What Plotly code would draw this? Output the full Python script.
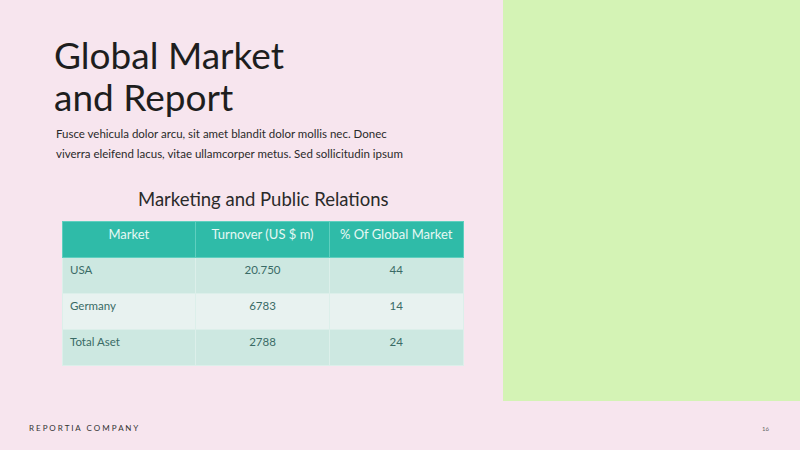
import plotly.graph_objects as go

header = ["Market", "Turnover (US $ m)", "% Of Global Market"]
markets = ["USA", "Germany", "Total Aset"]
turnover = ["20.750", "6783", "2788"]
share = ["44", "14", "24"]

W, H = 800, 450
fig = go.Figure()

row_fill = ["#cde8e1", "#e8f2f0", "#cde8e1"]
fig.add_trace(go.Table(
    domain=dict(x=[62 / W, 464 / W], y=[1 - 366 / H, 1 - 221 / H]),
    columnwidth=[1, 1, 1],
    header=dict(values=header, fill_color="#2fbba8", line_color="#5fcfbf",
                align="center", height=36,
                font=dict(family="Lato", size=13, color="#e6f8f4")),
    cells=dict(values=[markets, turnover, share],
               fill_color=[row_fill] * 3, line_color="#dcefea",
               align=["left", "center", "center"], height=36,
               font=dict(family="Lato", size=11.5, color="#3a6b66")),
))

# right green panel
fig.add_shape(type="rect", xref="paper", yref="paper", x0=503 / W, x1=1,
              y0=1 - 401 / H, y1=1, fillcolor="#d4f3b5", line_width=0, layer="below")

def txt(x, y, s, size, color="#222222", anchor="left", family="Lato"):
    fig.add_annotation(x=x / W, y=1 - y / H, xref="paper", yref="paper", text=s,
                       showarrow=False, xanchor=anchor, yanchor="middle",
                       font=dict(family=family, size=size, color=color))

txt(52, 54, "Global Market", 37, "#1e1e1e")
txt(52, 97, "and Report", 37, "#1e1e1e")
txt(54, 134, "Fusce vehicula dolor arcu, sit amet blandit dolor mollis nec. Donec", 11.5, "#2a2a2a")
txt(54, 153, "viverra eleifend lacus, vitae ullamcorper metus. Sed sollicitudin ipsum", 11.5, "#2a2a2a")
txt(263, 199, "Marketing and Public Relations", 18.5, "#2a2a2a", anchor="center")
txt(27, 428, "R E P O R T I A   C O M P A N Y", 8, "#333333")
txt(765, 428, "16", 6, "#666666", anchor="center")

fig.update_layout(width=W, height=H, margin=dict(l=0, r=0, t=0, b=0),
                  paper_bgcolor="#f7e5ee", plot_bgcolor="#f7e5ee")
fig.write_html("out.html", config={"displayModeBar": False},
               post_script="document.body.style.margin='0';")
